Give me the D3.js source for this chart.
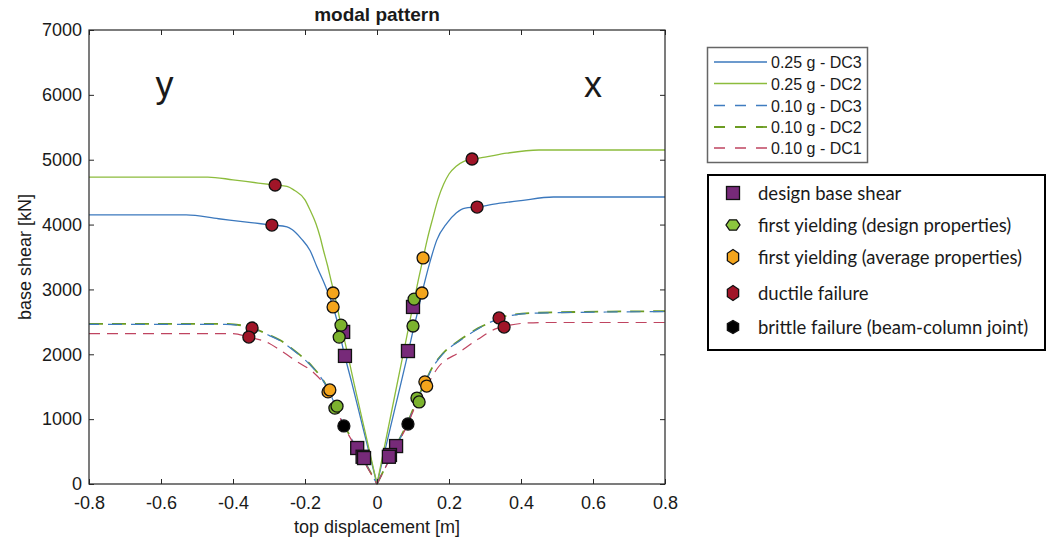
<!DOCTYPE html>
<html>
<head>
<meta charset="utf-8">
<script src="https://cdn.jsdelivr.net/npm/d3@7"></script>
<style>
  body { margin: 0; background: #fff; }
  svg { display: block; }
  text { font-family: "Liberation Sans", Arial, sans-serif; fill: #1a1a1a; }
</style>
</head>
<body>
<svg id="chart" width="1050" height="542"></svg>
<script>
// Pushover curves: [top displacement (m), base shear (kN)]
// "y" direction branch (negative displacements) and "x" direction branch (positive)
const pga025_DC3_y = [[-0.8,4150],[-0.53,4150],[-0.44,4090],[-0.35,4030],[-0.292,3993],[-0.25,3965],[-0.235,3920],[-0.21,3780],[-0.186,3600],[-0.167,3350],[-0.144,3060],[-0.126,2800],[-0.112,2540],[-0.094,2080],[-0.07,1560],[-0.04,890],[0,0]];
const pga025_DC3_x = [[0,0],[0.05,1170],[0.08,1870],[0.1,2360],[0.115,2700],[0.125,2945],[0.135,3170],[0.147,3420],[0.166,3760],[0.194,4020],[0.22,4180],[0.245,4255],[0.278,4270],[0.32,4310],[0.4,4370],[0.49,4425],[0.8,4425]];
const pga025_DC2_y = [[-0.8,4733],[-0.47,4733],[-0.4,4690],[-0.33,4640],[-0.283,4610],[-0.25,4590],[-0.23,4530],[-0.2,4380],[-0.186,4225],[-0.17,4020],[-0.158,3808],[-0.149,3608],[-0.138,3380],[-0.126,3100],[-0.117,2900],[-0.105,2580],[-0.084,2066],[-0.064,1557],[-0.03,730],[0,0]];
const pga025_DC2_x = [[0,0],[0.05,1380],[0.08,2200],[0.1,2750],[0.115,3150],[0.128,3480],[0.14,3780],[0.155,4100],[0.17,4400],[0.185,4620],[0.2,4780],[0.22,4900],[0.24,4970],[0.265,5010],[0.3,5040],[0.36,5100],[0.45,5150],[0.8,5150]];
const pga010_DC3_y = [[-0.8,2462],[-0.42,2462],[-0.347,2398],[-0.3,2292],[-0.27,2212],[-0.23,2052],[-0.178,1792],[-0.15,1595],[-0.133,1432],[-0.114,1182],[-0.092,912],[-0.05,495],[0,0]];
const pga010_DC3_x = [[0,0],[0.05,555],[0.086,950],[0.111,1290],[0.133,1550],[0.153,1780],[0.184,2010],[0.23,2210],[0.28,2390],[0.339,2550],[0.38,2605],[0.444,2635],[0.8,2658]];
const pga010_DC2_y = [[-0.8,2470],[-0.42,2470],[-0.347,2405],[-0.3,2300],[-0.27,2220],[-0.23,2060],[-0.178,1800],[-0.15,1603],[-0.133,1440],[-0.114,1190],[-0.092,920],[-0.05,500],[0,0]];
const pga010_DC2_x = [[0,0],[0.05,560],[0.086,960],[0.111,1300],[0.133,1560],[0.153,1790],[0.184,2020],[0.23,2220],[0.28,2400],[0.314,2490],[0.339,2560],[0.38,2610],[0.444,2640],[0.8,2665]];
const pga010_DC1_y = [[-0.8,2320],[-0.4,2320],[-0.356,2266],[-0.3,2170],[-0.27,2066],[-0.22,1880],[-0.178,1727],[-0.15,1560],[-0.133,1400],[-0.114,1160],[-0.092,895],[-0.05,480],[0,0]];
const pga010_DC1_x = [[0,0],[0.05,540],[0.086,930],[0.111,1260],[0.138,1510],[0.17,1800],[0.23,2035],[0.28,2230],[0.333,2400],[0.353,2430],[0.4,2475],[0.46,2490],[0.8,2490]];

// Performance points: [top displacement (m), base shear (kN)]
const designBaseShear = [[-0.094,2345],[-0.089,1975],[0.1,2730],[0.086,2050],[-0.055,555],[-0.04,420],[-0.036,400],[0.053,585],[0.036,447],[0.033,420]];
const yieldDesignProps = [[-0.1,2450],[-0.105,2265],[0.103,2850],[0.1,2436],[-0.117,1170],[-0.111,1200],[0.111,1325],[0.117,1265]];
const yieldAverageProps = [[-0.122,2945],[-0.122,2730],[0.128,3485],[0.125,2945],[-0.136,1420],[-0.131,1450],[0.133,1575],[0.138,1510]];
const ductileFailure = [[-0.283,4610],[-0.292,3993],[0.264,5011],[0.278,4270],[-0.347,2405],[-0.356,2266],[0.339,2560],[0.353,2420]];
const brittleFailure = [[-0.092,895],[0.086,925]];

// Axis ticks and labels
const xTicks = [-0.8,-0.6,-0.4,-0.2,0,0.2,0.4,0.6,0.8];
const yTicks = [0,1000,2000,3000,4000,5000,6000,7000];
const chartTitle = "modal pattern";
const xLabel = "top displacement [m]";
const yLabel = "base shear [kN]";
const curveLabels = ["0.25 g - DC3","0.25 g - DC2","0.10 g - DC3","0.10 g - DC2","0.10 g - DC1"];
const pointLabels = ["design base shear","first yielding (design properties)","first yielding (average properties)","ductile failure","brittle failure (beam-column joint)"];

const svg = d3.select("#chart");
const W = 1050, H = 542;
const plot = {left: 89, right: 665, top: 30, bottom: 484};

const x = d3.scaleLinear().domain([-0.8, 0.8]).range([plot.left, plot.right]);
const y = d3.scaleLinear().domain([0, 7000]).range([plot.bottom, plot.top]);

svg.append("rect").attr("width", W).attr("height", H).attr("fill", "#fff");

// line styles
const curveStyles = [
  {branches: [pga025_DC3_y, pga025_DC3_x], color: "#3b78bd", width: 1.3, dash: null, offset: 0},
  {branches: [pga025_DC2_y, pga025_DC2_x], color: "#8cbc3c", width: 1.3, dash: null, offset: 0},
  {branches: [pga010_DC2_y, pga010_DC2_x], color: "#6c9c22", width: 1.8, dash: "14,9", offset: 0},
  {branches: [pga010_DC3_y, pga010_DC3_x], color: "#3f7cc0", width: 1.2, dash: "14,9", offset: 4},
  {branches: [pga010_DC1_y, pga010_DC1_x], color: "#bf4460", width: 1.2, dash: "11,7", offset: 0}
];

const lineGen = d3.line()
  .x(d => x(d[0]))
  .y(d => y(d[1]))
  .curve(d3.curveMonotoneX);

const gLines = svg.append("g");
curveStyles.forEach(s => {
  s.branches.forEach(b => {
    gLines.append("path")
      .datum(b)
      .attr("d", lineGen)
      .attr("fill", "none")
      .attr("stroke", s.color)
      .attr("stroke-width", s.width)
      .attr("stroke-dasharray", s.dash)
      .attr("stroke-dashoffset", s.offset);
  });
});

// markers
const markerSets = [
  {data: designBaseShear, shape: "square", fill: "#772a79"},
  {data: yieldDesignProps, shape: "circle", fill: "#7cb32e"},
  {data: yieldAverageProps, shape: "circle", fill: "#f4a51c"},
  {data: ductileFailure, shape: "circle", fill: "#a01528"},
  {data: brittleFailure, shape: "circle", fill: "#000"}
];
const gMarks = svg.append("g");
markerSets.forEach(m => {
  if (m.shape === "square") {
    gMarks.selectAll(null).data(m.data).enter().append("rect")
      .attr("x", d => x(d[0]) - 6.5).attr("y", d => y(d[1]) - 6.5)
      .attr("width", 13).attr("height", 13)
      .attr("fill", m.fill).attr("stroke", "#111").attr("stroke-width", 1.3);
  } else {
    gMarks.selectAll(null).data(m.data).enter().append("circle")
      .attr("cx", d => x(d[0])).attr("cy", d => y(d[1]))
      .attr("r", 6)
      .attr("fill", m.fill).attr("stroke", "#111").attr("stroke-width", 1.3);
  }
});

// axes box with inward ticks on all sides
const axisColor = "#262626";
const fmtX = d => d === 0 ? "0" : d3.format(".1f")(d).replace("\u2212", "-");
const xAxisB = svg.append("g").attr("transform", `translate(0,${plot.bottom})`)
  .call(d3.axisBottom(x).tickValues(xTicks).tickSizeInner(-5).tickSizeOuter(0).tickPadding(12).tickFormat(fmtX));
const xAxisT = svg.append("g").attr("transform", `translate(0,${plot.top})`)
  .call(d3.axisTop(x).tickValues(xTicks).tickSizeInner(-5).tickSizeOuter(0).tickFormat(""));
const yAxisL = svg.append("g").attr("transform", `translate(${plot.left},0)`)
  .call(d3.axisLeft(y).tickValues(yTicks).tickSizeInner(-5).tickSizeOuter(0).tickPadding(7)
    .tickFormat(d3.format("d")));
const yAxisR = svg.append("g").attr("transform", `translate(${plot.right},0)`)
  .call(d3.axisRight(y).tickValues(yTicks).tickSizeInner(-5).tickSizeOuter(0).tickFormat(""));

[xAxisB, xAxisT, yAxisL, yAxisR].forEach(g => {
  g.select(".domain").remove();
  g.selectAll(".tick line").attr("stroke", axisColor).attr("stroke-width", 1);
  g.selectAll("text").attr("font-size", 18).attr("fill", "#262626")
    .style("font-family", '"Liberation Sans", Arial, sans-serif');
});

svg.append("rect")
  .attr("x", plot.left).attr("y", plot.top)
  .attr("width", plot.right - plot.left).attr("height", plot.bottom - plot.top)
  .attr("fill", "none").attr("stroke", axisColor).attr("stroke-width", 1.2);

// titles
svg.append("text").attr("x", (plot.left + plot.right) / 2).attr("y", 21)
  .attr("text-anchor", "middle").attr("font-size", 19).attr("font-weight", "bold")
  .text(chartTitle);
svg.append("text").attr("x", (plot.left + plot.right) / 2).attr("y", 533)
  .attr("text-anchor", "middle").attr("font-size", 18).attr("fill", "#262626")
  .text(xLabel);
svg.append("text").attr("transform", `translate(31,${(plot.top + plot.bottom) / 2}) rotate(-90)`)
  .attr("text-anchor", "middle").attr("font-size", 18).attr("fill", "#262626")
  .text(yLabel);

// direction tags
svg.append("text").attr("x", x(-0.59)).attr("y", 97).attr("text-anchor", "middle")
  .attr("font-size", 36).text("y");
svg.append("text").attr("x", x(0.6)).attr("y", 97).attr("text-anchor", "middle")
  .attr("font-size", 36).text("x");

// legend for curves
const leg1 = svg.append("g");
leg1.append("rect").attr("x", 707.5).attr("y", 47.5).attr("width", 160).attr("height", 115)
  .attr("fill", "#fff").attr("stroke", "#666").attr("stroke-width", 1.5);
const legOrder = [0, 1, 3, 2, 4];
const rowY1 = [62, 83.5, 105.5, 127, 148];
curveLabels.forEach((lab, i) => {
  const s = curveStyles[legOrder[i]];
  leg1.append("line").attr("x1", 714).attr("x2", 767).attr("y1", rowY1[i]).attr("y2", rowY1[i])
    .attr("stroke", s.color).attr("stroke-width", Math.max(s.width, 1.5))
    .attr("stroke-dasharray", s.dash ? "11,10" : null);
  leg1.append("text").attr("x", 771).attr("y", rowY1[i] + 6).attr("font-size", 16).text(lab);
});

// legend for performance points
const leg2 = svg.append("g");
leg2.append("rect").attr("x", 708).attr("y", 175).attr("width", 337).attr("height", 175)
  .attr("fill", "#fff").attr("stroke", "#000").attr("stroke-width", 2);
const rowY2 = [193, 225, 257, 293, 327];
const hexPath = (cx, cy, rx, ry, rot) => {
  const pts = d3.range(6).map(k => {
    const a = rot + k * Math.PI / 3;
    return [cx + rx * Math.cos(a), cy + ry * Math.sin(a)];
  });
  return d3.line()(pts) + "Z";
};
pointLabels.forEach((lab, i) => {
  const cx = 733, cy = rowY2[i];
  const m = markerSets[i];
  if (i === 0) {
    leg2.append("rect").attr("x", cx - 6.5).attr("y", cy - 6.5).attr("width", 13).attr("height", 13)
      .attr("fill", m.fill).attr("stroke", "#111").attr("stroke-width", 1.3);
  } else if (i === 1) {
    leg2.append("path").attr("d", hexPath(cx, cy, 7, 6, 0))
      .attr("fill", "#8cc63e").attr("stroke", "#111").attr("stroke-width", 1.3);
  } else if (i === 4) {
    leg2.append("path").attr("d", hexPath(cx, cy, 6.5, 6.5, Math.PI / 6))
      .attr("fill", "#000").attr("stroke", "#111").attr("stroke-width", 1.3);
  } else {
    leg2.append("path").attr("d", hexPath(cx, cy, 6.5, 7.5, -Math.PI / 2))
      .attr("fill", m.fill).attr("stroke", "#111").attr("stroke-width", 1.3);
  }
  leg2.append("text").attr("x", 758).attr("y", cy + 6.5).attr("font-size", 18.5)
    .style("font-family", "Lato, 'Open Sans', sans-serif").attr("fill", "#111").text(lab);
});
</script>
</body>
</html>
